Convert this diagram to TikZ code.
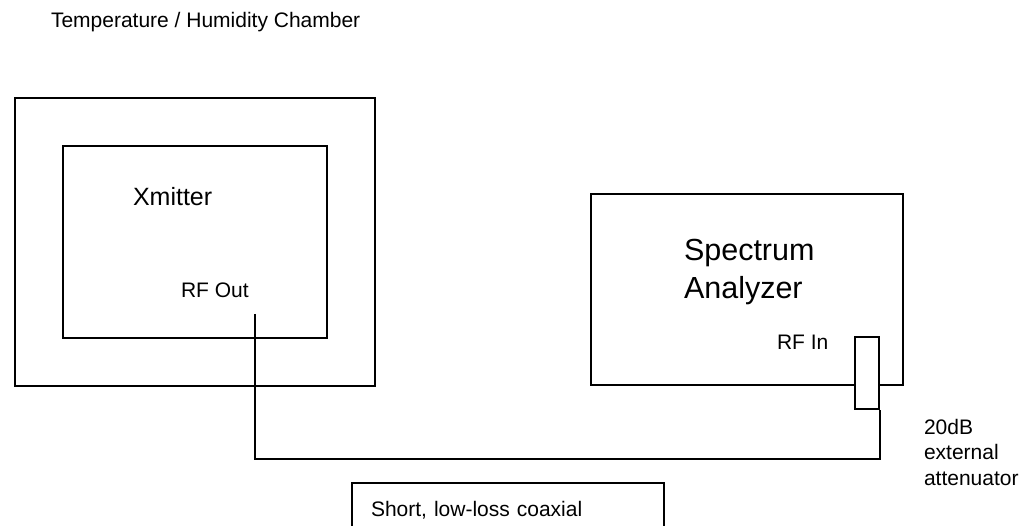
\documentclass[tikz,border=0pt]{standalone}
\usepackage{fontspec}
\setmainfont{Liberation Sans}

\newcommand{\labelsize}{\fontsize{21}{25.5}\selectfont}
\newcommand{\unitsize}{\fontsize{25}{30}\selectfont}
\newcommand{\bigsize}{\fontsize{30.5}{38}\selectfont}

\begin{document}
\begin{tikzpicture}[x=1pt,y=-1pt,line width=2pt]

      \clip (0,0) rectangle (1036,526);

      \begin{scope}[every node/.style={draw, inner sep=0pt}]
        \node (chamber)  at (195,241.7)   [minimum width=360pt, minimum height=288pt] {};
        \node (xmitter)  at (195,241.8)   [minimum width=264pt, minimum height=191.7pt] {};
        \node (analyzer) at (746.7,289.4) [minimum width=312pt, minimum height=191.3pt] {};
        \node (atten)    at (866.75,373.25) [fill=white, minimum width=23.5pt, minimum height=71.5pt] {};
        \node (coax)     at (351,482) [anchor=north west, text width=273.7pt, align=left,
                                        inner xsep=19pt, inner ysep=18.5pt, text depth=40pt,
                                        font=\labelsize] {Short, low-loss coaxial};
      \end{scope}

      \begin{scope}[every node/.style={inner sep=0pt, anchor=base west, font=\labelsize}]
        \node (title)       at (50,28)   {Temperature / Humidity Chamber};
        \node (xmitterlbl)  at (132,206) [font=\unitsize] {Xmitter};
        \node (rfoutlbl)    at (180,298) {RF Out};
        \node (analyzerlbl) at (683,238) [anchor=north west, align=left, font=\bigsize] {Spectrum\\Analyzer};
        \node (rfinlbl)     at (776,350) {RF In};
        \node (attenlbl)    at (923,418) [anchor=north west, align=left] {20dB\\external\\attenuator};
      \end{scope}

      % cable from the transmitter output to the attenuator
      \coordinate (rfout) at (255,314);
      \coordinate (bend)  at ([yshift=-48.7pt]atten.south east);
      \draw (rfout) |- (bend) -- (atten.south east);

    \end{tikzpicture}
\end{document}
